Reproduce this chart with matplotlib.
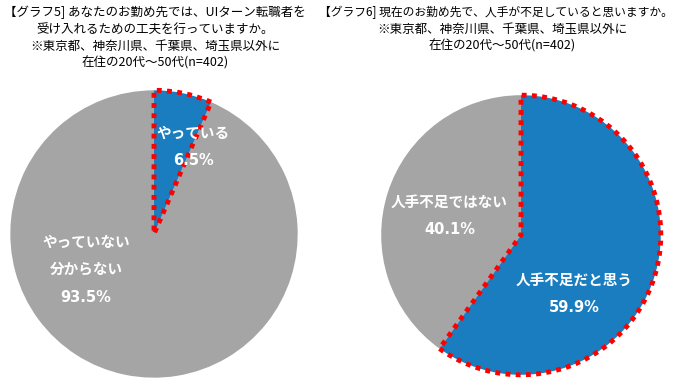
import matplotlib.pyplot as plt

plt.rcParams['font.family'] = ['Noto Sans CJK JP', 'DejaVu Sans']

# chart 5: UI-turn reception efforts
labels5 = ['やっている', 'やっていない\n分からない']
values5 = [6.5, 93.5]
title5 = ['【グラフ5] あなたのお勤め先では、UIターン転職者を',
          '受け入れるための工夫を行っていますか。',
          '※東京都、神奈川県、千葉県、埼玉県以外に',
          '在住の20代～50代(n=402)']

# chart 6: labour shortage
labels6 = ['人手不足だと思う', '人手不足ではない']
values6 = [59.9, 40.1]
title6 = ['【グラフ6] 現在のお勤め先で、人手が不足していると思いますか。',
          '※東京都、神奈川県、千葉県、埼玉県以外に',
          '在住の20代～50代(n=402)']

BLUE = '#1A7DC0'
GRAY = '#A5A5A5'
RED = '#FF0000'

W, H = 680, 389
fig = plt.figure(figsize=(W / 100, H / 100), dpi=100)


def px(x, y):
    return x / W, 1 - y / H


def draw_pie(cx, cy, r, values):
    ax = fig.add_axes([(cx - r) / W, (H - cy - r) / H, 2 * r / W, 2 * r / H])
    wedges, _ = ax.pie(values, colors=[BLUE, GRAY], startangle=90,
                       counterclock=False, radius=1)
    wedges[0].set_edgecolor(RED)
    wedges[0].set_linewidth(3.5)
    wedges[0].set_linestyle((0, (1, 1.1)))
    wedges[0].set_zorder(3)
    ax.set_xlim(-1.03, 1.03)
    ax.set_ylim(-1.03, 1.03)
    ax.set_aspect('equal')
    ax.axis('off')
    return ax


draw_pie(154, 234, 148, values5)
draw_pie(521, 235, 144, values6)

# titles
for i, line in enumerate(title5):
    fig.text(*px(155, 12 + 17 * i), line, ha='center', va='center', fontsize=9)
for i, line in enumerate(title6):
    x = 496 if i == 0 else 502
    fig.text(*px(x, 12 + 17 * i), line, ha='center', va='center',
             fontsize=8.5 if i == 0 else 9)

# slice labels
lab = dict(ha='center', va='center', fontsize=10.5, color='white',
           fontweight='bold', zorder=10)
pct = dict(lab, family=['DejaVu Sans', 'Noto Sans CJK JP'])
fig.text(*px(193, 133), labels5[0], **lab)
fig.text(*px(193, 160), f'{values5[0]}%', **pct)
fig.text(*px(86, 242), labels5[1].split('\n')[0], **lab)
fig.text(*px(86, 269), labels5[1].split('\n')[1], **lab)
fig.text(*px(86, 297), f'{values5[1]}%', **pct)

fig.text(*px(449, 202), labels6[1], **lab)
fig.text(*px(450, 230), f'{values6[1]}%', **pct)
fig.text(*px(574, 280), labels6[0], **lab)
fig.text(*px(574, 307), f'{values6[0]}%', **pct)

fig.savefig('out.png', dpi=100)
